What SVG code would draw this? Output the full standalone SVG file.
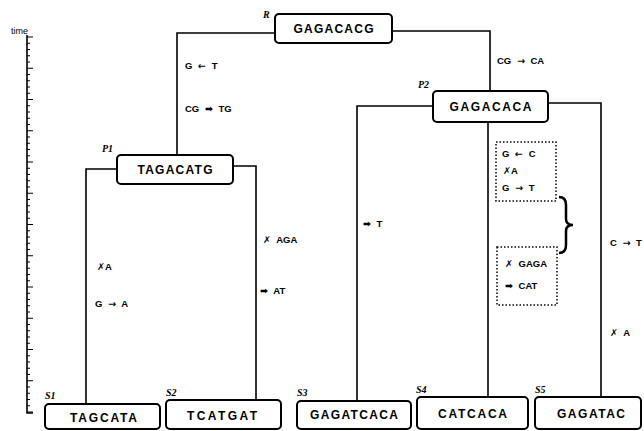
<svg xmlns="http://www.w3.org/2000/svg" width="644" height="431" viewBox="0 0 644 431">
<style>
.box{fill:#fff;stroke:#000;stroke-width:2}
.seq{font-family:"Liberation Sans","DejaVu Sans",sans-serif;font-weight:bold;font-size:12px;fill:#000}
.lab{font-family:"Liberation Serif","DejaVu Serif",serif;font-weight:bold;font-style:italic;font-size:10px;fill:#000}
.mut{font-family:"Liberation Sans","DejaVu Sans",sans-serif;font-weight:bold;font-size:9.5px;word-spacing:3px;fill:#000}
.ar{font-family:"DejaVu Sans",sans-serif;font-weight:bold}
.ln{fill:none;stroke:#000;stroke-width:1.6}
.dot{fill:none;stroke:#000;stroke-width:1.5;stroke-dasharray:1.5 2}
</style>
<rect width="644" height="431" fill="#fff"/>
<g id="axis">
<text x="11" y="34" class="mut" style="font-weight:normal;font-size:9px">time</text>
<path d="M27 35 V413 H33" class="ln"/>
<line x1="28.5" y1="36.5" x2="28.5" y2="414" stroke="#000" stroke-width="3" stroke-dasharray="1 5.25"/>
<line x1="31.5" y1="36.5" x2="31.5" y2="414" stroke="#000" stroke-width="3" stroke-dasharray="1 30.25"/>
</g>
<g id="connectors">
<path d="M275 33 H177 V155" class="ln"/>
<path d="M392 31 H490 V91" class="ln"/>
<path d="M117 169 H86 V404" class="ln"/>
<path d="M233 166 H256 V400" class="ln"/>
<path d="M433 106 H357 V401" class="ln"/>
<path d="M488 122 V397" class="ln"/>
<path d="M548 103 H601 V397" class="ln"/>
</g>
<g id="mutations">
<text x="185" y="69" class="mut">G <tspan class="ar">←</tspan> T</text>
<text x="185" y="112" class="mut">CG <tspan class="ar">➡</tspan> TG</text>
<text x="497" y="64" class="mut">CG <tspan class="ar">→</tspan> CA</text>
<text x="97" y="270" class="mut"><tspan class="ar">✗</tspan>A</text>
<text x="95" y="307" class="mut">G <tspan class="ar">→</tspan> A</text>
<text x="263" y="243" class="mut"><tspan class="ar">✗</tspan> AGA</text>
<text x="260" y="294" class="mut"><tspan class="ar">➡</tspan> AT</text>
<text x="363" y="227" class="mut"><tspan class="ar">➡</tspan> T</text>
<text x="610" y="246" class="mut">C <tspan class="ar">→</tspan> T</text>
<text x="610" y="336" class="mut"><tspan class="ar">✗</tspan> A</text>
</g>
<g id="group1">
<rect x="496" y="142" width="60" height="59" class="dot"/>
<text x="502" y="157" class="mut">G <tspan class="ar">←</tspan> C</text>
<text x="503" y="174" class="mut"><tspan class="ar">✗</tspan>A</text>
<text x="502" y="191" class="mut">G <tspan class="ar">→</tspan> T</text>
</g>
<g id="group2">
<rect x="497" y="247" width="60" height="58" class="dot"/>
<text x="505" y="267" class="mut"><tspan class="ar">✗</tspan> GAGA</text>
<text x="505" y="289" class="mut"><tspan class="ar">➡</tspan> CAT</text>
</g>
<g id="brace">
<path d="M559 197 Q566 197 566 205 V219 Q566 225 573 225 Q566 225 566 231 V245 Q566 253 559 253" fill="none" stroke="#000" stroke-width="2.5"/>
</g>
<g id="R">
<rect x="275" y="14" width="117" height="29" rx="4" class="box"/>
<text x="333.5" y="33" text-anchor="middle" class="seq" textLength="80" lengthAdjust="spacing">GAGACACG</text>
<text x="263" y="18" class="lab">R</text>
</g>
<g id="P1">
<rect x="117" y="155" width="116" height="29" rx="4" class="box"/>
<text x="175" y="174" text-anchor="middle" class="seq" textLength="75" lengthAdjust="spacing">TAGACATG</text>
<text x="102" y="152" class="lab">P1</text>
</g>
<g id="P2">
<rect x="433" y="91" width="115" height="31" rx="4" class="box"/>
<text x="490.5" y="111" text-anchor="middle" class="seq" textLength="82" lengthAdjust="spacing">GAGACACA</text>
<text x="418" y="88" class="lab">P2</text>
</g>
<g id="S1">
<rect x="45" y="404" width="115" height="25" rx="4" class="box"/>
<text x="103.5" y="421.5" text-anchor="middle" class="seq" textLength="67" lengthAdjust="spacing">TAGCATA</text>
<text x="45" y="399" class="lab">S1</text>
</g>
<g id="S2">
<rect x="166" y="400" width="115" height="29" rx="4" class="box"/>
<text x="222" y="419.5" text-anchor="middle" class="seq" textLength="70" lengthAdjust="spacing">TCATGAT</text>
<text x="166" y="396" class="lab">S2</text>
</g>
<g id="S3">
<rect x="297" y="401" width="114" height="28" rx="4" class="box"/>
<text x="354" y="418.5" text-anchor="middle" class="seq" textLength="88" lengthAdjust="spacing">GAGATCACA</text>
<text x="297" y="396" class="lab">S3</text>
</g>
<g id="S4">
<rect x="417" y="397" width="111" height="32" rx="4" class="box"/>
<text x="472.5" y="417.5" text-anchor="middle" class="seq" textLength="69" lengthAdjust="spacing">CATCACA</text>
<text x="416" y="393" class="lab">S4</text>
</g>
<g id="S5">
<rect x="535" y="397" width="106" height="32" rx="4" class="box"/>
<text x="591" y="417.5" text-anchor="middle" class="seq" textLength="68" lengthAdjust="spacing">GAGATAC</text>
<text x="535" y="393" class="lab">S5</text>
</g>
</svg>
